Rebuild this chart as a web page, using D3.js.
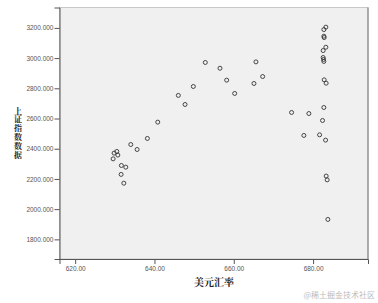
<!DOCTYPE html>
<html><head><meta charset="utf-8">
<script src="https://cdn.jsdelivr.net/npm/d3@7"></script>
<style>body{margin:0;background:#fff}svg{display:block}</style>
</head><body>
<script>
const rateUSD = [652.82,656.52,658.21,649.80,646.02,647.71,640.83,638.21,634.03,635.62,630.50,629.82,630.76,629.57,631.66,632.77,631.59,632.27,
683.22,682.72,682.72,682.80,683.22,682.54,682.54,682.64,682.72,665.59,667.28,665.09,660.23,682.80,683.30,674.58,678.94,682.72,682.39,677.68,681.64,683.15,683.30,683.55,683.73];
const shIndex = [2971,2933,2854,2812,2753,2693,2576,2468,2428,2395,2382,2371,2358,2333,2289,2278,2230,2172,
3205,3189,3145,3136,3072,3050,3004,2991,2978,2975,2878,2832,2766,2856,2834,2640,2633,2673,2587,2488,2492,2457,2219,2194,1932];
const xTicks = [620,640,660,680];
const yTicks = [1800,2000,2200,2400,2600,2800,3000,3200];
const xTitle = "美元汇率";
const yTitle = "上证指数数据";
const watermark = "@稀土掘金技术社区";

const W = 378, H = 303;
const L = 59.5, R = 368, T = 7.5, B = 259;
const svg = d3.select("body").append("svg").attr("width", W).attr("height", H);
const x = d3.scaleLinear().domain([616.05, 693.85]).range([L, R]);
const y = d3.scaleLinear().domain([1670, 3335]).range([B, T]);

svg.append("rect").attr("x", L).attr("y", T).attr("width", R - L).attr("height", B - T)
  .attr("fill", "#f0f0f0").attr("stroke", "#c8c8c8");
svg.append("line").attr("x1", R).attr("x2", R).attr("y1", T).attr("y2", B).attr("stroke", "#777");

const xa = svg.append("g").attr("transform", `translate(0,${B})`)
  .call(d3.axisBottom(x).tickValues(xTicks).tickFormat(d3.format(".2f")).tickSize(5).tickPadding(2));
const ya = svg.append("g").attr("transform", `translate(${L},0)`)
  .call(d3.axisLeft(y).tickValues(yTicks).tickFormat(d3.format(".3f")).tickSize(5).tickPadding(1));
[xa, ya].forEach(g => {
  g.select(".domain").attr("stroke", "#555");
  g.selectAll(".tick line").attr("stroke", "#555");
  g.selectAll("text").attr("fill", "#555").attr("font-size", "6.5px").attr("font-family", "Liberation Sans, Arial, sans-serif");
});

svg.append("g").selectAll("circle").data(rateUSD.map((d, i) => [d, shIndex[i]])).join("circle")
  .attr("cx", d => x(d[0])).attr("cy", d => y(d[1])).attr("r", 2)
  .attr("fill", "none").attr("stroke", "#333").attr("stroke-width", 0.9);

svg.append("text").attr("x", 214).attr("y", 286).attr("text-anchor", "middle")
  .attr("font-size", "10px").attr("font-weight", "bold").attr("fill", "#222")
  .attr("font-family", "Noto Serif CJK SC, Noto Sans CJK SC, serif").text(xTitle);

svg.append("text").attr("x", 18).attr("y", 133).attr("text-anchor", "middle")
  .style("writing-mode", "vertical-rl").style("letter-spacing", "0.8px")
  .attr("font-size", "8px").attr("font-weight", "bold").attr("fill", "#222")
  .attr("font-family", "Noto Serif CJK SC, Noto Sans CJK SC, serif").text(yTitle);

svg.append("text").attr("x", 375).attr("y", 298).attr("text-anchor", "end")
  .attr("font-size", "8px").attr("fill", "#bbb")
  .attr("font-family", "Noto Sans CJK SC, sans-serif").text(watermark);
</script>
</body></html>
